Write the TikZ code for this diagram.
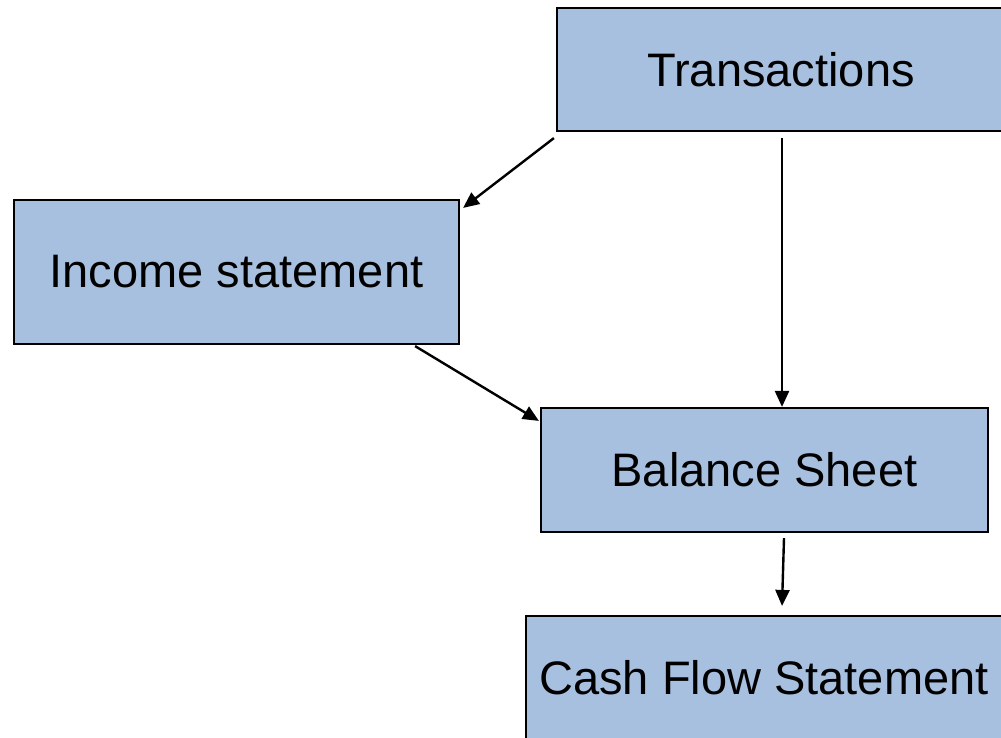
\documentclass[tikz,border=0pt]{standalone}
\usepackage{fontspec}
\setmainfont{Liberation Sans}
\usetikzlibrary{arrows.meta}
\definecolor{boxfill}{HTML}{A8C0DF}
\tikzset{
  stmt/.style={draw=black, line width=2.2pt, fill=boxfill, inner sep=0pt,
    font=\fontsize{47}{56}\selectfont, text=black},
  link/.style={line width=2.4pt, -{Triangle[length=16pt,width=14pt]}}
}
\begin{document}
\begin{tikzpicture}[x=1pt,y=-1pt]
  \useasboundingbox (0,0) rectangle (1001,737);
  \clip (0,0) rectangle (1001,737);
  \fill[white] (0,0) rectangle (1001,737);

  \node[stmt, minimum width=448pt, minimum height=123pt] (trans) at (781,69.5) {Transactions};
  \node[stmt, minimum width=445pt, minimum height=144pt] (inc) at (236.5,272) {Income statement};
  \node[stmt, minimum width=447pt, minimum height=124pt] (bal) at (764.5,470) {Balance Sheet};
  \node[stmt, minimum width=476pt, minimum height=124pt] (cash) at (764,678) {Cash Flow Statement};

  \draw[link] ([shift={(-2,6)}]trans.south west) -- ([shift={(3,9)}]inc.north east);
  \draw[link] ([shift={(1,6)}]trans.south) -- ([shift={(1,0)}]trans.south |- bal.north);
  \draw[link] ([shift={(-45,1)}]inc.south east) -- ([shift={(-1,14)}]bal.north west);
  \draw[link] ([shift={(19.5,5)}]bal.south) -- ([shift={(18,-9)}]cash.north);
\end{tikzpicture}
\end{document}
